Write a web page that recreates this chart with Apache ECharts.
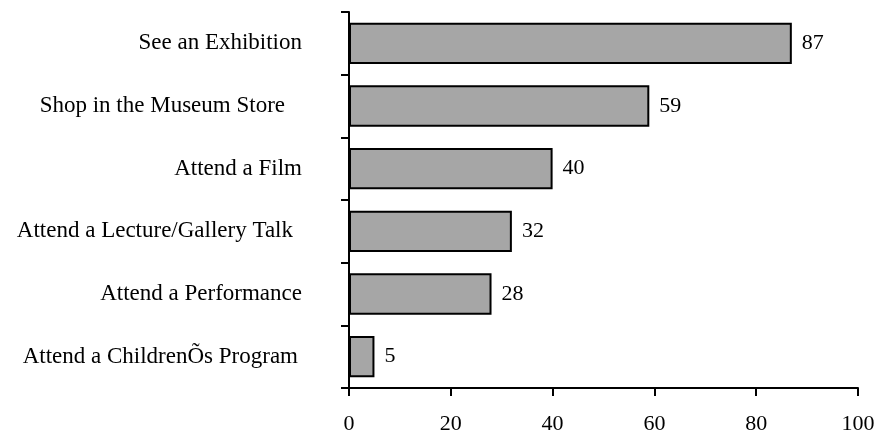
<!DOCTYPE html>
<html>
<head>
<meta charset="utf-8">
<script src="https://cdn.jsdelivr.net/npm/echarts@6/dist/echarts.min.js"></script>
<style>html,body{margin:0;padding:0;background:#fff;}#c{width:878px;height:435px;}</style>
</head>
<body>
<div id="c"></div>
<script>
var categories = ["See an Exhibition", "Shop in the Museum Store", "Attend a Film", "Attend a Lecture/Gallery Talk", "Attend a Performance", "Attend a ChildrenÕs Program"];
var values = [87, 59, 40, 32, 28, 5];
var xTicks = [0, 20, 40, 60, 80, 100];

// right padding per label (style only)
var labelPad = [0, 17, 0, 9, 0, 4];

var chart = echarts.init(document.getElementById('c'));
var font = 'Liberation Serif, Times New Roman, serif';
var rich = {};
labelPad.forEach(function (p, i) {
  rich['p' + i] = {fontFamily: font, fontSize: 23, color: '#000', padding: [0, p, 0, 0]};
});
chart.setOption({
  animation: false,
  grid: {left: 349, right: 20, top: 12, bottom: 42.5, containLabel: false},
  xAxis: {
    type: 'value', min: 0, max: 100, interval: 20,
    axisLine: {show: true, lineStyle: {color: '#000', width: 2}},
    axisTick: {show: true, length: 8, lineStyle: {color: '#000', width: 2}},
    axisLabel: {color: '#000', fontFamily: font, fontSize: 22, margin: 25,
      formatter: function (v) { return xTicks.indexOf(v) >= 0 ? String(v) : ''; }},
    splitLine: {show: false}
  },
  yAxis: {
    type: 'category', data: categories, inverse: true,
    axisLine: {show: true, lineStyle: {color: '#000', width: 2}},
    axisTick: {show: true, length: 8, lineStyle: {color: '#000', width: 2}},
    axisLabel: {color: '#000', fontFamily: font, fontSize: 23, margin: 47,
      formatter: function (v) {
        var i = categories.indexOf(v);
        return '{p' + i + '|' + v + '}';
      },
      rich: rich}
  },
  series: [{
    type: 'bar', data: values, barWidth: '66%',
    itemStyle: {color: '#a6a6a6', borderColor: '#000', borderWidth: 2},
    label: {show: true, position: 'right', distance: 10, color: '#000', fontFamily: font, fontSize: 22}
  }]
});
</script>
</body>
</html>
